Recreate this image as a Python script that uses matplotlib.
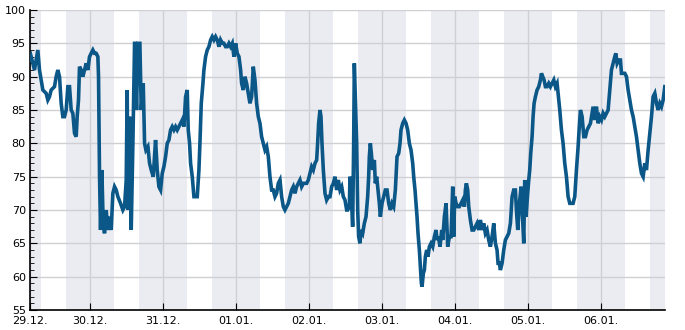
import numpy as np
import pandas as pd
import matplotlib
matplotlib.use("Agg")
import matplotlib.pyplot as plt
from matplotlib.ticker import MultipleLocator

# hours since 29.12. 00:00 and relative humidity (%)
hours = [4.33, 4.71, 5.81, 6.90, 7.45, 8.00, 8.55, 9.64, 10.19, 10.74, 11.29, 12.38, 12.93, 13.48,
         14.03, 14.57, 15.12, 15.67, 16.22, 16.77, 17.32, 17.86, 18.41, 18.96, 19.51, 19.83, 20.27,
         20.60, 21.15, 21.70, 22.25, 22.79, 23.34, 23.89, 24.44, 24.99, 25.53, 26.08, 26.63, 26.85,
         27.18, 27.51, 27.94, 28.38, 28.82, 29.37, 29.92, 30.46, 31.01, 31.56, 32.11, 32.66, 33.21,
         34.08, 34.85, 35.40, 35.95, 36.27, 36.49, 37.04, 37.59, 38.14, 38.69, 38.80, 39.35, 39.78,
         40.44, 40.88, 41.54, 41.98, 42.42, 43.07, 43.62, 44.17, 44.83, 45.26, 45.59, 46.14, 46.69,
         47.24, 47.79, 48.33, 48.88, 49.43, 49.98, 50.52, 51.07, 51.62, 52.17, 52.72, 53.26, 53.81,
         54.36, 54.91, 55.46, 56.00, 56.33, 56.77, 57.10, 57.65, 58.20, 58.74, 59.29, 59.84, 60.17,
         60.61, 61.16, 61.48, 62.03, 62.58, 63.13, 63.68, 64.22, 64.77, 65.32, 65.87, 66.42, 66.96,
         67.51, 68.06, 68.61, 69.16, 69.70, 70.25, 70.80, 71.35, 71.90, 72.44, 72.99, 73.54, 73.87,
         74.42, 74.96, 75.51, 76.06, 76.61, 77.16, 77.70, 78.25, 78.80, 79.35, 79.90, 80.44, 80.99,
         81.54, 82.09, 82.64, 83.18, 83.73, 84.28, 84.83, 85.37, 85.92, 86.47, 87.02, 87.57, 88.11,
         88.66, 89.21, 89.76, 90.31, 90.85, 91.40, 91.95, 92.50, 93.05, 93.59, 94.14, 94.69, 95.24,
         95.79, 96.33, 96.88, 97.43, 97.98, 98.53, 98.85, 99.18, 99.62, 99.95, 100.28, 100.72,
         101.27, 101.81, 102.36, 102.91, 103.46, 104.01, 104.55, 105.10, 105.65, 106.20, 106.75,
         107.29, 107.84, 108.39, 108.72, 109.27, 109.48, 109.81, 110.36, 110.69, 110.91, 111.24,
         111.68, 112.01, 112.33, 112.77, 113.10, 113.65, 114.20, 114.75, 115.29, 115.62, 115.84,
         116.17, 116.50, 116.94, 117.49, 117.81, 118.25, 118.69, 119.13, 119.46, 120.01, 120.55,
         121.10, 121.65, 122.20, 122.75, 123.29, 123.84, 124.39, 124.61, 124.94, 125.49, 125.92,
         126.25, 126.80, 127.35, 127.90, 128.44, 128.99, 129.54, 130.09, 130.42, 130.85, 131.18,
         131.51, 131.84, 132.28, 132.61, 132.94, 133.16, 133.59, 133.92, 134.25, 134.69, 135.13,
         135.57, 136.11, 136.66, 137.21, 137.76, 138.09, 138.53, 139.07, 139.62, 139.95, 140.50,
         141.05, 141.59, 142.14, 142.69, 143.24, 143.57, 143.90, 144.34, 144.88, 145.43, 145.98,
         146.53, 147.07, 147.40, 147.73, 148.17, 148.50, 149.05, 149.60, 150.14, 150.69, 151.24,
         151.79, 152.34, 152.88, 153.43, 153.98, 154.53, 155.07, 155.62, 156.17, 156.72, 157.27,
         157.81, 158.14, 158.58, 158.91, 159.46, 160.01, 160.55, 161.10, 161.65, 162.20, 162.75,
         163.29, 163.84, 164.17, 164.61, 165.16, 165.71, 166.25, 166.58, 166.91, 167.35, 167.79,
         168.23, 168.55, 168.88, 169.32, 169.65, 169.98, 170.42, 170.96, 171.51, 172.06, 172.39,
         172.83, 173.27, 173.71, 174.25, 174.80, 175.35, 175.90, 176.45, 176.99, 177.54, 177.87,
         178.42, 178.97, 179.51, 180.06, 180.61, 181.16, 181.71, 182.25, 182.80, 183.35, 183.90,
         184.45, 184.77, 185.21, 185.76, 186.31, 186.86, 187.40, 187.95, 188.50, 189.05, 189.38,
         189.92, 190.47, 191.02, 191.57, 192.12, 192.66, 193.21, 193.76, 194.31, 194.86, 195.40,
         195.95, 196.50, 196.83, 197.27, 197.81, 198.36, 198.69, 199.24, 199.79, 200.34, 200.88,
         201.43, 201.98, 202.53, 203.08, 203.62, 204.17, 204.72, 205.27, 205.82, 206.36, 206.91,
         207.46, 208.01, 208.56, 209.10, 209.65, 210.20, 210.75, 211.30, 211.84, 212.39, 212.94]

rh = [92.5, 93, 91, 94, 91, 89.5, 88, 87.5, 86.5, 87, 88, 88.5, 90, 91,
      90, 86, 84, 84, 85, 88.5, 88.5, 85, 84.5, 81.5, 81, 84, 86.5,
      91.5, 91, 90, 91, 92, 91, 93, 93.5, 94, 93.5, 93.5, 93, 90,
      75, 67, 76, 68, 66.5, 70, 67, 69, 67, 72.5, 73.5, 73, 72,
      71, 70, 70.5, 74.5, 88, 70, 84, 67, 80, 95, 95, 85, 95,
      95, 85, 89, 80, 79, 79.5, 77, 76, 75, 78, 80.5, 76, 73.5,
      73, 75.5, 76.5, 78, 80, 80.5, 82, 82.5, 82, 82.5, 82, 82.5, 83,
      83.5, 82.5, 87, 88, 82, 80, 77, 75, 72, 72, 72, 76, 80,
      86, 89, 91, 93, 94, 94.5, 95.5, 96, 95.5, 96, 95.5, 94.5, 95.5,
      95, 95, 94.5, 94.5, 95, 94.5, 95, 93, 95, 93.5, 93, 91, 89,
      88, 90, 89, 87.5, 86, 87, 91.5, 89.5, 86, 84, 83, 81, 80,
      79, 79.5, 78, 75, 73, 73, 72, 72.5, 74, 74.5, 72, 70.5, 70,
      70.5, 71, 72, 73, 73.5, 72.5, 73.5, 74, 74.5, 73.5, 74, 74, 74,
      74.5, 75.5, 76.5, 76, 77, 77.5, 80, 83, 85, 84, 80, 76,
      72.5, 71.5, 72, 72, 73.5, 74, 75, 73, 74.5, 73, 73.5,
      72, 71.5, 70, 70, 70.5, 75, 73, 67.5, 80, 92, 87,
      80, 70, 66, 65, 67, 66.5, 68, 69, 72, 75, 78,
      80, 78.5, 76, 77.5, 74, 75, 73, 71, 69, 71, 72,
      73, 73, 71, 70, 71, 70.5, 73, 75, 78, 78.5, 80,
      82, 83, 83.5, 83, 82, 80, 79, 77, 75, 73, 71,
      69, 66.5, 64, 61.5, 59, 58.5, 60.5, 61, 63, 64, 63,
      64.5, 65, 64.5, 66, 67, 65.5, 66, 64.5, 67, 65.5, 69,
      71, 64.5, 66, 66, 73.5, 66, 72, 71, 70.5, 70.5, 71,
      71.5, 70.5, 73, 74, 73, 70.5, 68.5, 67, 67, 67.5, 68,
      67, 68.5, 67, 68, 66.5, 67, 65.5, 64.5, 66, 68, 65,
      64, 62, 62, 61, 62, 64, 65.5, 66, 66.5, 68, 72,
      73, 73, 70, 67, 71, 73.5, 68, 65, 74.5, 69, 72,
      74.5, 76, 78.5, 81, 84, 86, 87, 88, 88.5, 89.5, 90.5,
      90, 89.5, 88.5, 88.5, 89, 88.5, 89, 89.5, 88.5, 89, 87.5,
      85, 82, 80, 77, 75, 72, 71, 71, 71, 72, 76,
      79.5, 82, 85, 84, 81, 81, 82, 82.5, 83, 84.5, 85.5,
      83.5, 85.5, 83, 84, 83.5, 84.5, 84, 84.5, 85, 88, 91,
      92, 93, 93.5, 92, 92.5, 92.5, 90.5, 90.5, 90.5, 90, 88,
      86.5, 85, 84, 82.5, 81, 79, 77, 75.5, 75, 77, 76,
      79, 81.5, 84, 87, 87.5, 86, 85, 86, 85.5, 86.5, 88.5]

day0 = pd.Timestamp("2024-12-29")
t_start = day0 + pd.Timedelta(hours=4.33)
t_end = day0 + pd.Timedelta(hours=213)
times = day0 + pd.to_timedelta(hours, unit="h")

line_color = "#0b5788"
band_color = "#ebecf1"
grid_color = "#cfcfd4"

fig = plt.figure(figsize=(6.85, 3.3), dpi=100)
ax = fig.add_axes([30 / 685, 20 / 330, 635 / 685, 300 / 330])

# night bands 16:00 -> 08:00
for d in pd.date_range("2024-12-28", "2025-01-06", freq="D"):
    ax.axvspan(d + pd.Timedelta(hours=16), d + pd.Timedelta(hours=32),
               color=band_color, lw=0, zorder=0)

ax.plot(times, rh, color=line_color, lw=2.6, solid_joinstyle="miter", zorder=3)

ax.set_xlim(t_start, t_end)
ax.set_ylim(55, 100)

ticks = [t_start] + list(pd.date_range("2024-12-30", "2025-01-06", freq="D"))
ax.set_xticks(ticks)
ax.set_xticklabels([t.strftime("%d.%m.") for t in ticks])
ax.yaxis.set_major_locator(MultipleLocator(5))
ax.yaxis.set_minor_locator(MultipleLocator(1))

ax.grid(True, which="major", color=grid_color, lw=1, zorder=1)
ax.set_axisbelow(True)
for s in ["top", "right"]:
    ax.spines[s].set_visible(False)
for s in ["left", "bottom"]:
    ax.spines[s].set_color("black")
    ax.spines[s].set_linewidth(1.2)

ax.tick_params(axis="both", which="major", direction="in", length=5, labelsize=8, color="black")
ax.tick_params(axis="y", which="minor", direction="in", length=3, color="black")
ax.tick_params(axis="x", pad=4)
ax.tick_params(axis="y", pad=3)

fig.savefig("out.png", dpi=100)
